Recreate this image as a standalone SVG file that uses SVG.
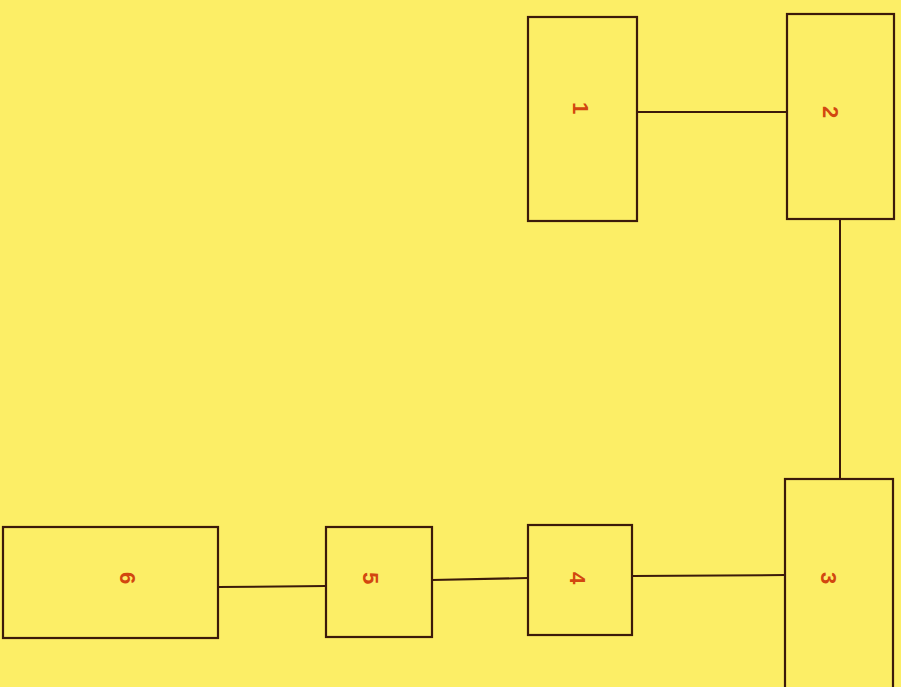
<svg xmlns="http://www.w3.org/2000/svg" width="901" height="687" viewBox="0 0 901 687">
<style>
.box{fill:none;stroke:#3b1a0a;stroke-width:2.2}
.con{stroke:#3b1a0a;stroke-width:2;fill:none}
.lbl{font-family:"Liberation Sans",Arial,sans-serif;font-size:22px;font-weight:bold;fill:#d2470f;text-anchor:middle;dominant-baseline:central}
</style>
<rect width="901" height="687" fill="#fcee66"/>
<g id="connectors">
<line class="con" x1="637" y1="112" x2="787" y2="112"/>
<line class="con" x1="840" y1="219" x2="840" y2="479"/>
<line class="con" x1="632" y1="576" x2="785" y2="575"/>
<line class="con" x1="432" y1="580" x2="528" y2="578"/>
<line class="con" x1="218" y1="587" x2="326" y2="586"/>
</g>
<g id="node1"><rect class="box" x="528" y="17" width="109" height="204"/><text class="lbl" transform="translate(580,108) rotate(90)">1</text></g>
<g id="node2"><rect class="box" x="787" y="14" width="107" height="205"/><text class="lbl" transform="translate(830,112) rotate(90)">2</text></g>
<g id="node3"><rect class="box" x="785" y="479" width="108" height="215"/><text class="lbl" transform="translate(828,578) rotate(90)">3</text></g>
<g id="node4"><rect class="box" x="528" y="525" width="104" height="110"/><text class="lbl" transform="translate(577,578) rotate(90)">4</text></g>
<g id="node5"><rect class="box" x="326" y="527" width="106" height="110"/><text class="lbl" transform="translate(370,578) rotate(90)">5</text></g>
<g id="node6"><rect class="box" x="3" y="527" width="215" height="111"/><text class="lbl" transform="translate(127,578) rotate(90)">6</text></g>
</svg>
